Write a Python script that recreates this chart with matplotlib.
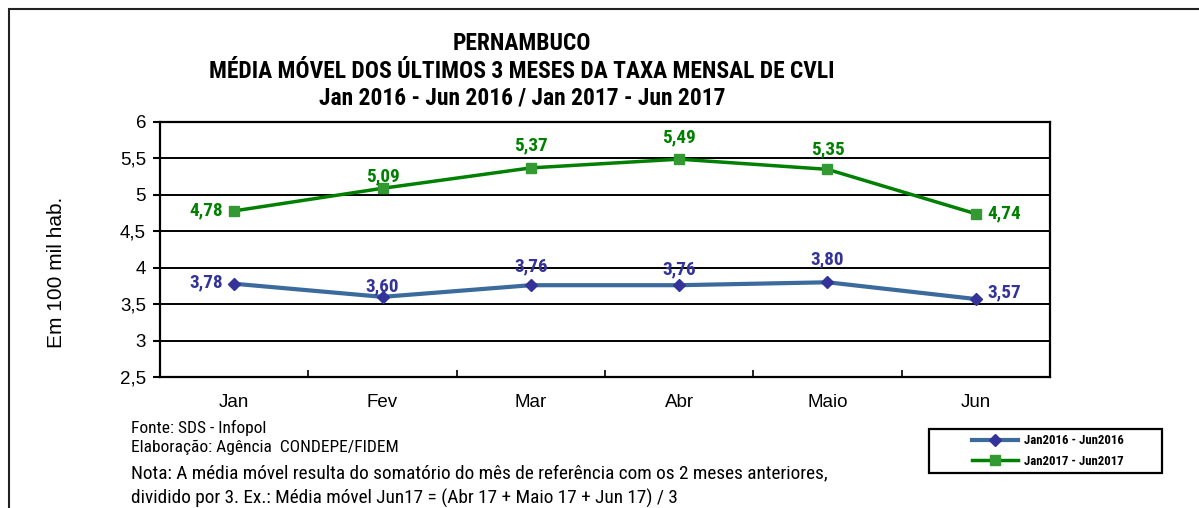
import matplotlib
matplotlib.use("Agg")
import matplotlib.pyplot as plt
from matplotlib.patches import Rectangle
from matplotlib import font_manager

months = ["Jan", "Fev", "Mar", "Abr", "Maio", "Jun"]
s2016 = [3.78, 3.60, 3.76, 3.76, 3.80, 3.57]
s2017 = [4.78, 5.09, 5.37, 5.49, 5.35, 4.74]
label2016 = "Jan2016 - Jun2016"
label2017 = "Jan2017 - Jun2017"
yticks = [2.5, 3, 3.5, 4, 4.5, 5, 5.5, 6]

fl = font_manager.fontManager.ttflist
pref = ["Liberation Sans Narrow", "Roboto Condensed", "Archivo Narrow", "PT Sans Narrow", "Arimo",
        "Fira Sans Condensed", "IBM Plex Sans Condensed", "Encode Sans Condensed", "Open Sans Condensed",
        "Barlow Semi Condensed", "Sofia Sans Condensed"]
def pick(need_bold):
    for cand in pref:
        ws = [f.weight for f in fl if f.name == cand]
        ws = [w if isinstance(w, int) else (700 if w == "bold" else 400) for w in ws]
        if ws and (not need_bold or max(ws) >= 700) and (need_bold or min(ws) <= 400):
            return cand
    return "Liberation Sans"
narrow_b = pick(True)
narrow = pick(False)
reg = "Liberation Sans"

W, H = 1199, 508
fig = plt.figure(figsize=(W / 100, H / 100), dpi=100)
ax = fig.add_axes([160 / W, 1 - 377 / H, 890 / W, 255 / H])
renderer = fig.canvas.get_renderer()

def fit(t, target):
    for _ in range(2):
        w = t.get_window_extent(renderer).width
        t.set_fontsize(t.get_fontsize() * target / w)

def fitted_size(text, target, **kw):
    p = fig.text(0.5, 0.5, text, fontsize=12, **kw)
    fit(p, target)
    s = p.get_fontsize()
    p.remove()
    return s

c16_line = "#3B6A9C"
c16_mark = "#333399"
c17_line = "#008000"
c17_mark = "#339933"

x = list(range(len(months)))
ax.plot(x, s2016, color=c16_line, lw=3, marker="D", ms=6.5, mfc=c16_mark, mec=c16_mark, label=label2016, zorder=3)
ax.plot(x, s2017, color=c17_line, lw=2.5, marker="s", ms=7, mfc=c17_mark, mec=c17_mark, label=label2017, zorder=3)

def fmt(v):
    return f"{v:.2f}".replace(".", ",")

off16 = [(-8, 1, "right"), (0, 1, "center"), (0, 7, "center"), (0, 5, "center"), (0, 10, "center"), (8, 5, "left")]
off17 = [(-8, 0, "right"), (0, 2, "center"), (0, 10, "center"), (0, 9, "center"), (0, 8, "center"), (8, 0, "left")]

lab_size = fitted_size(fmt(s2017[2]), 34, family=narrow_b, fontweight="bold")
lab_kw = dict(textcoords="offset points", fontsize=lab_size, fontweight="bold", family=narrow_b)
for i, v in enumerate(s2016):
    dx, dy, ha = off16[i]
    va = "bottom" if ha == "center" else "center"
    ax.annotate(fmt(v), (i, v), xytext=(dx, dy), ha=ha, va=va, color=c16_mark, **lab_kw)
for i, v in enumerate(s2017):
    dx, dy, ha = off17[i]
    va = "bottom" if ha == "center" else "center"
    ax.annotate(fmt(v), (i, v), xytext=(dx, dy), ha=ha, va=va, color=c17_line, **lab_kw)

ax.set_xlim(-0.5, len(months) - 0.5)
ax.set_ylim(2.5, 6)
ax.set_yticks(yticks)
ax.set_yticklabels([f"{t:g}".replace(".", ",") for t in yticks], family=reg, fontsize=13.5)
ax.set_xticks(x)
ax.set_xticklabels(months, family=reg, fontsize=13.5)
ax.set_xticks([i + 0.5 for i in range(-1, len(months))], minor=True)
ax.tick_params(axis="x", which="major", length=0, pad=12)
ax.tick_params(axis="x", which="minor", length=5, width=1.2, direction="in")
ax.tick_params(axis="y", length=5, width=1.5, direction="out", pad=5)
ax.grid(axis="y", color="black", lw=1.4)
for s in ax.spines.values():
    s.set_color("black")
    s.set_linewidth(1.6)
ax.set_axisbelow(True)

fig.text(57 / W, 1 - 272 / H, "Em 100 mil hab.", rotation=90, ha="center", va="center", family=reg, fontsize=15)

title_lines = ["PERNAMBUCO", "MÉDIA MÓVEL DOS ÚLTIMOS 3 MESES DA TAXA MENSAL DE CVLI",
               "Jan 2016 - Jun 2016 / Jan 2017 - Jun 2017"]
tsize = fitted_size(title_lines[1], 627, family=narrow_b, fontweight="bold")
for line, yy in zip(title_lines, [43, 71, 98]):
    fig.text(522 / W, 1 - yy / H, line, ha="center", va="center", family=narrow_b, fontweight="bold", fontsize=tsize)

fsize = fitted_size("Fonte: SDS - Infopol", 136, family=narrow)
fig.text(131 / W, 1 - 428 / H, "Fonte: SDS - Infopol", ha="left", va="center", family=narrow, fontsize=fsize)
fig.text(131 / W, 1 - 447 / H, "Elaboração: Agência  CONDEPE/FIDEM", ha="left", va="center", family=narrow, fontsize=fsize)
nota1 = "Nota: A média móvel resulta do somatório do mês de referência com os 2 meses anteriores,"
nota2 = "dividido por 3. Ex.: Média móvel Jun17 = (Abr 17 + Maio 17 + Jun 17) / 3"
nsize = fitted_size(nota1, 695, family=narrow)
fig.text(131 / W, 1 - 473 / H, nota1, ha="left", va="center", family=narrow, fontsize=nsize)
fig.text(131 / W, 1 - 498 / H, nota2, ha="left", va="center", family=narrow, fontsize=nsize)

leg_size = fitted_size(label2016, 100, family=narrow_b, fontweight="bold")
leg = fig.legend(loc="center", bbox_to_anchor=(1048 / W, 1 - 451 / H), frameon=False,
                 prop={"family": narrow_b, "weight": "bold", "size": leg_size},
                 handlelength=3.6, handletextpad=0.5, borderpad=0.3, labelspacing=0.55, borderaxespad=0)
fig.patches.append(Rectangle((929 / W, 1 - 473 / H), 233 / W, 44 / H, transform=fig.transFigure,
                             fill=False, edgecolor="black", lw=1.6))

fig.patches.append(Rectangle((9 / W, -0.1), 1.2, 1 - 9 / H + 0.1, transform=fig.transFigure,
                             fill=False, edgecolor="#222222", lw=1.5))

fig.savefig("out.png", dpi=100)
